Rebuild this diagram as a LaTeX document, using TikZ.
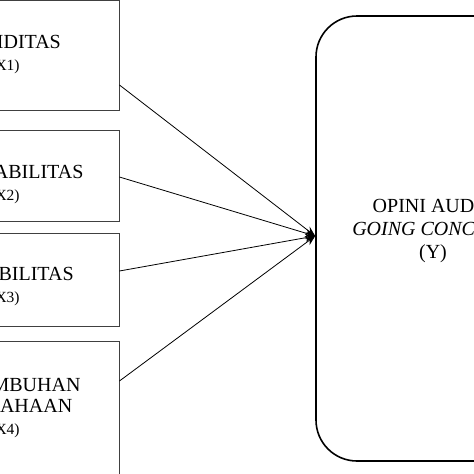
\documentclass[tikz,border=0pt]{standalone}
\usepackage{fontspec}
\setmainfont{Liberation Serif}
\usetikzlibrary{arrows.meta}
\begin{document}
\begin{tikzpicture}[x=1pt,y=-1pt,
  varbox/.style={draw=black!75,line width=0.9pt,inner sep=0pt,align=center,
    minimum width=228pt,font=\fontsize{20}{21}\selectfont},
  ybox/.style={draw=black,line width=1.6pt,rounded corners=41pt,inner sep=0pt,
    align=center,minimum width=234pt,minimum height=445pt,
    font=\fontsize{20}{23}\selectfont},
  conn/.style={draw=black,line width=0.8pt,-{Stealth[length=10pt,width=8pt]}}]
\useasboundingbox (0,0) rectangle (474,474);
\clip (0,0) rectangle (474,474);
\node[varbox,minimum height=110pt] (b1) at (5,55) {LIKUIDITAS\\[1pt]{\fontsize{15.5}{17}\selectfont (X1)}};
\node[varbox,minimum height=91pt] (b2) at (5,175.5) {\rule{0pt}{31pt}PROFITABILITAS\\[1pt]{\fontsize{15.5}{17}\selectfont (X2)}};
\node[varbox,minimum height=93pt] (b3) at (5,279.5) {\rule{0pt}{27pt}SOLVABILITAS\\[1pt]{\fontsize{15.5}{17}\selectfont (X3)}};
\node[varbox,minimum height=134pt] (b4) at (5,408) {PERTUMBUHAN\\PERUSAHAAN\\[1pt]{\fontsize{15.5}{17}\selectfont (X4)}};
\node[ybox] (y) at (433,238.5) {OPINI AUDIT\\\textit{GOING CONCERN}\\(Y)\\[-4pt]};
\coordinate (tip) at ([yshift=2.5pt]y.west);
\draw[conn] ([yshift=-30pt]b1.east) -- (tip);
\draw[conn] ([yshift=-1.5pt]b2.east) -- (tip);
\draw[conn] ([yshift=8.5pt]b3.east) -- (tip);
\draw[conn] ([yshift=27pt]b4.east) -- (tip);
\end{tikzpicture}
\end{document}
